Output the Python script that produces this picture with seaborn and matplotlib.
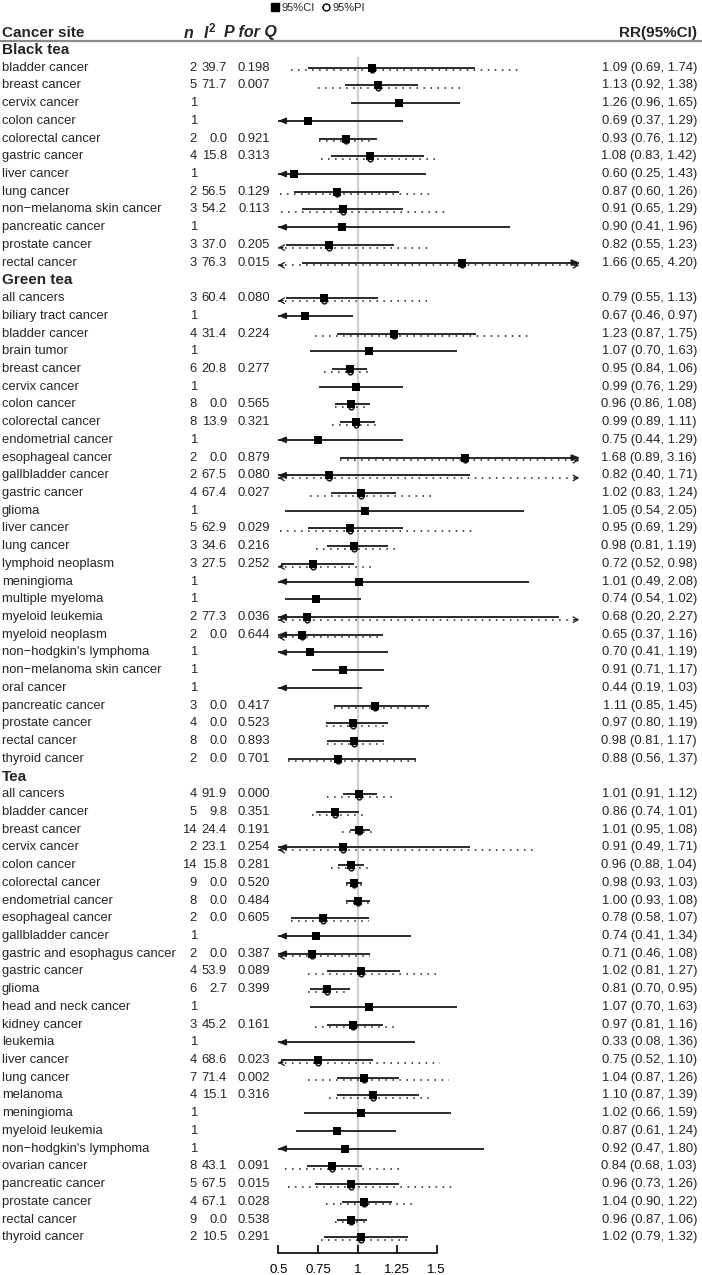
import matplotlib

matplotlib.use("Agg")

import matplotlib.pyplot as plt
import matplotlib.transforms as mtransforms
from matplotlib.lines import Line2D
import pandas as pd
import seaborn as sns


GROUPS = ["Black tea", "Green tea", "Tea"]

BLACK_SITES = [
    "bladder cancer", "breast cancer", "cervix cancer", "colon cancer", "colorectal cancer",
    "gastric cancer", "liver cancer", "lung cancer", "non\u2212melanoma skin cancer",
    "pancreatic cancer", "prostate cancer", "rectal cancer",
]
BLACK_N = [2, 5, 1, 1, 2, 4, 1, 2, 3, 1, 3, 3]
BLACK_I2 = [39.7, 71.7, None, None, 0.0, 15.8, None, 56.5, 54.2, None, 37.0, 76.3]
BLACK_PQ = [0.198, 0.007, None, None, 0.921, 0.313, None, 0.129, 0.113, None, 0.205, 0.015]
BLACK_RR = [1.09, 1.13, 1.26, 0.69, 0.93, 1.08, 0.60, 0.87, 0.91, 0.90, 0.82, 1.66]
BLACK_LO = [0.69, 0.92, 0.96, 0.37, 0.76, 0.83, 0.25, 0.60, 0.65, 0.41, 0.55, 0.65]
BLACK_HI = [1.74, 1.38, 1.65, 1.29, 1.12, 1.42, 1.43, 1.26, 1.29, 1.96, 1.23, 4.20]
BLACK_PI_LO = [0.58, 0.75, None, None, 0.76, 0.77, None, 0.51, 0.52, None, 0.45, 0.20]
BLACK_PI_HI = [2.02, 1.68, None, None, 1.11, 1.50, None, 1.48, 1.58, None, 1.44, 9.00]

GREEN_SITES = [
    "all cancers", "biliary tract cancer", "bladder cancer", "brain tumor", "breast cancer",
    "cervix cancer", "colon cancer", "colorectal cancer", "endometrial cancer",
    "esophageal cancer", "gallbladder cancer", "gastric cancer", "glioma", "liver cancer",
    "lung cancer", "lymphoid neoplasm", "meningioma", "multiple myeloma", "myeloid leukemia",
    "myeloid neoplasm", "non\u2212hodgkin's lymphoma", "non\u2212melanoma skin cancer",
    "oral cancer", "pancreatic cancer", "prostate cancer", "rectal cancer", "thyroid cancer",
]
GREEN_N = [3, 1, 4, 1, 6, 1, 8, 8, 1, 2, 2, 4, 1, 5, 3, 3, 1, 1, 2, 2, 1, 1, 1, 3, 4, 8, 2]
GREEN_I2 = [60.4, None, 31.4, None, 20.8, None, 0.0, 13.9, None, 0.0, 67.5, 67.4, None, 62.9,
            34.6, 27.5, None, None, 77.3, 0.0, None, None, None, 0.0, 0.0, 0.0, 0.0]
GREEN_PQ = [0.080, None, 0.224, None, 0.277, None, 0.565, 0.321, None, 0.879, 0.080, 0.027,
            None, 0.029, 0.216, 0.252, None, None, 0.036, 0.644, None, None, None, 0.417,
            0.523, 0.893, 0.701]
GREEN_RR = [0.79, 0.67, 1.23, 1.07, 0.95, 0.99, 0.96, 0.99, 0.75, 1.68, 0.82, 1.02, 1.05, 0.95,
            0.98, 0.72, 1.01, 0.74, 0.68, 0.65, 0.70, 0.91, 0.44, 1.11, 0.97, 0.98, 0.88]
GREEN_LO = [0.55, 0.46, 0.87, 0.70, 0.84, 0.76, 0.86, 0.89, 0.44, 0.89, 0.40, 0.83, 0.54, 0.69,
            0.81, 0.52, 0.49, 0.54, 0.20, 0.37, 0.41, 0.71, 0.19, 0.85, 0.80, 0.81, 0.56]
GREEN_HI = [1.13, 0.97, 1.75, 1.63, 1.06, 1.29, 1.08, 1.11, 1.29, 3.16, 1.71, 1.24, 2.05, 1.29,
            1.19, 0.98, 2.08, 1.02, 2.27, 1.16, 1.19, 1.17, 1.03, 1.45, 1.19, 1.17, 1.37]
GREEN_PI_LO = [0.45, None, 0.73, None, 0.79, None, 0.86, 0.84, None, 0.89, 0.30, 0.70, None,
               0.51, 0.74, 0.45, None, None, 0.10, 0.35, None, None, None, 0.85, 0.80, 0.81,
               0.56]
GREEN_PI_HI = [1.44, None, 2.10, None, 1.10, None, 1.08, 1.15, None, 3.16, 3.00, 1.47, None,
               1.74, 1.25, 1.10, None, None, 4.00, 1.16, None, None, None, 1.45, 1.19, 1.17,
               1.37]

TEA_SITES = [
    "all cancers", "bladder cancer", "breast cancer", "cervix cancer", "colon cancer",
    "colorectal cancer", "endometrial cancer", "esophageal cancer", "gallbladder cancer",
    "gastric and esophagus cancer", "gastric cancer", "glioma", "head and neck cancer",
    "kidney cancer", "leukemia", "liver cancer", "lung cancer", "melanoma", "meningioma",
    "myeloid leukemia", "non\u2212hodgkin's lymphoma", "ovarian cancer", "pancreatic cancer",
    "prostate cancer", "rectal cancer", "thyroid cancer",
]
TEA_N = [4, 5, 14, 2, 14, 9, 8, 2, 1, 2, 4, 6, 1, 3, 1, 4, 7, 4, 1, 1, 1, 8, 5, 4, 9, 2]
TEA_I2 = [91.9, 9.8, 24.4, 23.1, 15.8, 0.0, 0.0, 0.0, None, 0.0, 53.9, 2.7, None, 45.2, None,
          68.6, 71.4, 15.1, None, None, None, 43.1, 67.5, 67.1, 0.0, 10.5]
TEA_PQ = [0.000, 0.351, 0.191, 0.254, 0.281, 0.520, 0.484, 0.605, None, 0.387, 0.089, 0.399,
          None, 0.161, None, 0.023, 0.002, 0.316, None, None, None, 0.091, 0.015, 0.028,
          0.538, 0.291]
TEA_RR = [1.01, 0.86, 1.01, 0.91, 0.96, 0.98, 1.00, 0.78, 0.74, 0.71, 1.02, 0.81, 1.07, 0.97,
          0.33, 0.75, 1.04, 1.10, 1.02, 0.87, 0.92, 0.84, 0.96, 1.04, 0.96, 1.02]
TEA_LO = [0.91, 0.74, 0.95, 0.49, 0.88, 0.93, 0.93, 0.58, 0.41, 0.46, 0.81, 0.70, 0.70, 0.81,
          0.08, 0.52, 0.87, 0.87, 0.66, 0.61, 0.47, 0.68, 0.73, 0.90, 0.87, 0.79]
TEA_HI = [1.12, 1.01, 1.08, 1.71, 1.04, 1.03, 1.08, 1.07, 1.34, 1.08, 1.27, 0.95, 1.63, 1.16,
          1.36, 1.10, 1.26, 1.39, 1.59, 1.24, 1.80, 1.03, 1.26, 1.22, 1.06, 1.32]
TEA_PI_LO = [0.81, 0.71, 0.90, 0.40, 0.83, 0.93, 0.93, 0.58, None, 0.46, 0.69, 0.69, None,
             0.73, None, 0.45, 0.69, 0.82, None, None, None, 0.54, 0.56, 0.80, 0.86, 0.77]
TEA_PI_HI = [1.24, 1.05, 1.12, 2.11, 1.10, 1.03, 1.07, 1.07, None, 1.08, 1.50, 0.95, None,
             1.24, None, 1.52, 1.58, 1.46, None, None, None, 1.26, 1.62, 1.36, 1.06, 1.33]

XTICKS = [0.5, 0.75, 1, 1.25, 1.5]
XTICK_LABELS = ["0.5", "0.75", "1", "1.25", "1.5"]

# layout in pixels of the 702 x 1275 output
W_PX, H_PX = 702, 1275
ROW0_PX = 50.0
ROW_STEP = 17.72
AX_TOP_PX, AX_BOT_PX = 45.0, 1253.0
X0_PX, PX_PER_UNIT = 278.3, 158.4
XMIN, XMAX = 0.5, 2.4
PI_SHIFT = 0.15
LINE_COLOR = "#1a1a1a"


def _build_rows() -> pd.DataFrame:
    blocks = [
        (BLACK_SITES, BLACK_N, BLACK_I2, BLACK_PQ, BLACK_RR, BLACK_LO, BLACK_HI, BLACK_PI_LO, BLACK_PI_HI),
        (GREEN_SITES, GREEN_N, GREEN_I2, GREEN_PQ, GREEN_RR, GREEN_LO, GREEN_HI, GREEN_PI_LO, GREEN_PI_HI),
        (TEA_SITES, TEA_N, TEA_I2, TEA_PQ, TEA_RR, TEA_LO, TEA_HI, TEA_PI_LO, TEA_PI_HI),
    ]
    rows = []
    pos = 0
    for group, block in zip(GROUPS, blocks):
        rows.append({"row": pos, "label": group, "header": True})
        pos += 1
        for site, n, i2, pq, rr, lo, hi, plo, phi in zip(*block):
            rows.append(
                {
                    "row": pos, "label": site, "header": False, "n": n, "i2": i2, "pq": pq,
                    "rr": rr, "lo": lo, "hi": hi, "pi_lo": plo, "pi_hi": phi,
                }
            )
            pos += 1
    return pd.DataFrame(rows)


df = _build_rows()
data = df[~df["header"]].copy()
data["lo_c"] = data["lo"].clip(lower=XMIN)
data["hi_c"] = data["hi"].clip(upper=XMAX)
pi = data.dropna(subset=["pi_lo"]).copy()
pi["y"] = pi["row"] + PI_SHIFT
pi["lo_c"] = pi["pi_lo"].astype(float).clip(lower=XMIN)
pi["hi_c"] = pi["pi_hi"].astype(float).clip(upper=XMAX)

sns.set_style("white")
plt.rcParams["font.family"] = ["Liberation Sans", "DejaVu Sans"]

fig = plt.figure(figsize=(W_PX / 100, H_PX / 100), dpi=100)
ax_w = (XMAX - XMIN) * PX_PER_UNIT
ax = fig.add_axes([X0_PX / W_PX, 1 - AX_BOT_PX / H_PX, ax_w / W_PX, (AX_BOT_PX - AX_TOP_PX) / H_PX])
ax.set_xlim(XMIN, XMAX)
ax.set_ylim((AX_BOT_PX - ROW0_PX) / ROW_STEP, (AX_TOP_PX - ROW0_PX) / ROW_STEP)

ax.vlines(1, 0.4, (AX_BOT_PX - ROW0_PX) / ROW_STEP, color="#d0d0d0", lw=1.6, zorder=0)

# prediction intervals (dotted) and confidence intervals (solid)
ax.hlines(pi["y"], pi["lo_c"], pi["hi_c"], color=LINE_COLOR, lw=1.1, linestyles=[(0, (1, 3.6))], zorder=1)
ax.hlines(data["row"], data["lo_c"], data["hi_c"], color=LINE_COLOR, lw=1.3, zorder=2)

arrow_ci = dict(arrowstyle="-|>,head_length=0.4,head_width=0.17", color=LINE_COLOR, lw=1.3, shrinkA=0, shrinkB=0)
arrow_pi = dict(arrowstyle="->,head_length=0.35,head_width=0.2", color=LINE_COLOR, lw=0.9, shrinkA=0, shrinkB=0)
for _, r in data.iterrows():
    if r["lo"] < XMIN:
        ax.annotate("", xy=(XMIN, r["row"]), xytext=(XMIN + 0.05, r["row"]), arrowprops=arrow_ci)
    if r["hi"] > XMAX:
        ax.annotate("", xy=(XMAX, r["row"]), xytext=(XMAX - 0.05, r["row"]), arrowprops=arrow_ci)
for _, r in pi.iterrows():
    if r["pi_lo"] < XMIN:
        ax.annotate("", xy=(XMIN, r["y"]), xytext=(XMIN + 0.03, r["y"]), arrowprops=arrow_pi)
    if r["pi_hi"] > XMAX:
        ax.annotate("", xy=(XMAX, r["y"]), xytext=(XMAX - 0.03, r["y"]), arrowprops=arrow_pi)

sns.scatterplot(data=pi, x="rr", y="y", marker="o", s=11, facecolor="white", edgecolor=LINE_COLOR,
                linewidth=1.2, legend=False, ax=ax, zorder=3)
sns.scatterplot(data=data, x="rr", y="row", marker="s", s=26, color="black", edgecolor="black",
                linewidth=0, legend=False, ax=ax, zorder=4)

for side in ["top", "right", "left"]:
    ax.spines[side].set_visible(False)
ax.spines["bottom"].set_bounds(XTICKS[0], XTICKS[-1])
ax.spines["bottom"].set_color("black")
ax.spines["bottom"].set_linewidth(1.2)
ax.set_xticks(XTICKS)
ax.set_xticklabels(XTICK_LABELS)
ax.set_yticks([])
ax.tick_params(axis="x", bottom=True, direction="in", length=5.5, width=1.2, pad=8, labelsize=9.5,
               colors="black")
ax.set_xlabel("")
ax.set_ylabel("")
ax.grid(False)

# text columns, x in figure fraction and y in row units
trans = mtransforms.blended_transform_factory(fig.transFigure, ax.transData)
FS = 9.4
for _, r in df.iterrows():
    y = r["row"]
    if r["header"]:
        ax.text(2 / W_PX, y, r["label"], transform=trans, va="center", ha="left",
                fontsize=11, fontweight="bold", clip_on=False)
        continue
    ax.text(2 / W_PX, y, r["label"], transform=trans, va="center", ha="left", fontsize=FS, clip_on=False)
    ax.text(197 / W_PX, y, f"{int(r['n'])}", transform=trans, va="center", ha="right", fontsize=FS, clip_on=False)
    if pd.notna(r["i2"]):
        ax.text(227 / W_PX, y, f"{r['i2']:.1f}", transform=trans, va="center", ha="right", fontsize=FS, clip_on=False)
        ax.text(270 / W_PX, y, f"{r['pq']:.3f}", transform=trans, va="center", ha="right", fontsize=FS, clip_on=False)
    ax.text(697 / W_PX, y, f"{r['rr']:.2f} ({r['lo']:.2f}, {r['hi']:.2f})", transform=trans,
            va="center", ha="right", fontsize=FS, clip_on=False)

# column headers
hy = 1 - 33 / H_PX
fig.text(2 / W_PX, hy, "Cancer site", fontsize=11, fontweight="bold", va="center", ha="left")
fig.text(193 / W_PX, hy, "n", fontsize=11.5, fontweight="bold", style="italic", va="center", ha="right")
fig.text(204 / W_PX, hy, "I", fontsize=11.5, fontweight="bold", style="italic", va="center", ha="left")
fig.text(209 / W_PX, hy + 4 / H_PX, "2", fontsize=8.5, fontweight="bold", va="center", ha="left")
fig.text(224 / W_PX, hy, "P for Q", fontsize=11.5, fontweight="bold", style="italic", va="center", ha="left")
fig.text(697 / W_PX, hy, "RR(95%CI)", fontsize=11, fontweight="bold", va="center", ha="right")
fig.add_artist(Line2D([0, 1], [1 - 41 / H_PX] * 2, transform=fig.transFigure, color="#8a8a8a", lw=1.6))

handles = [
    Line2D([], [], marker="s", color="black", linestyle="none", markersize=6),
    Line2D([], [], marker="o", color="black", markerfacecolor="white", lw=1, markersize=5),
]
fig.legend(handles, ["95%CI", "95%PI"], loc="center", bbox_to_anchor=(318 / W_PX, 1 - 8 / H_PX), ncol=2,
           frameon=False, fontsize=8, handlelength=0.7, handletextpad=0.3, columnspacing=0.6)

fig.savefig("out.png", dpi=100)
